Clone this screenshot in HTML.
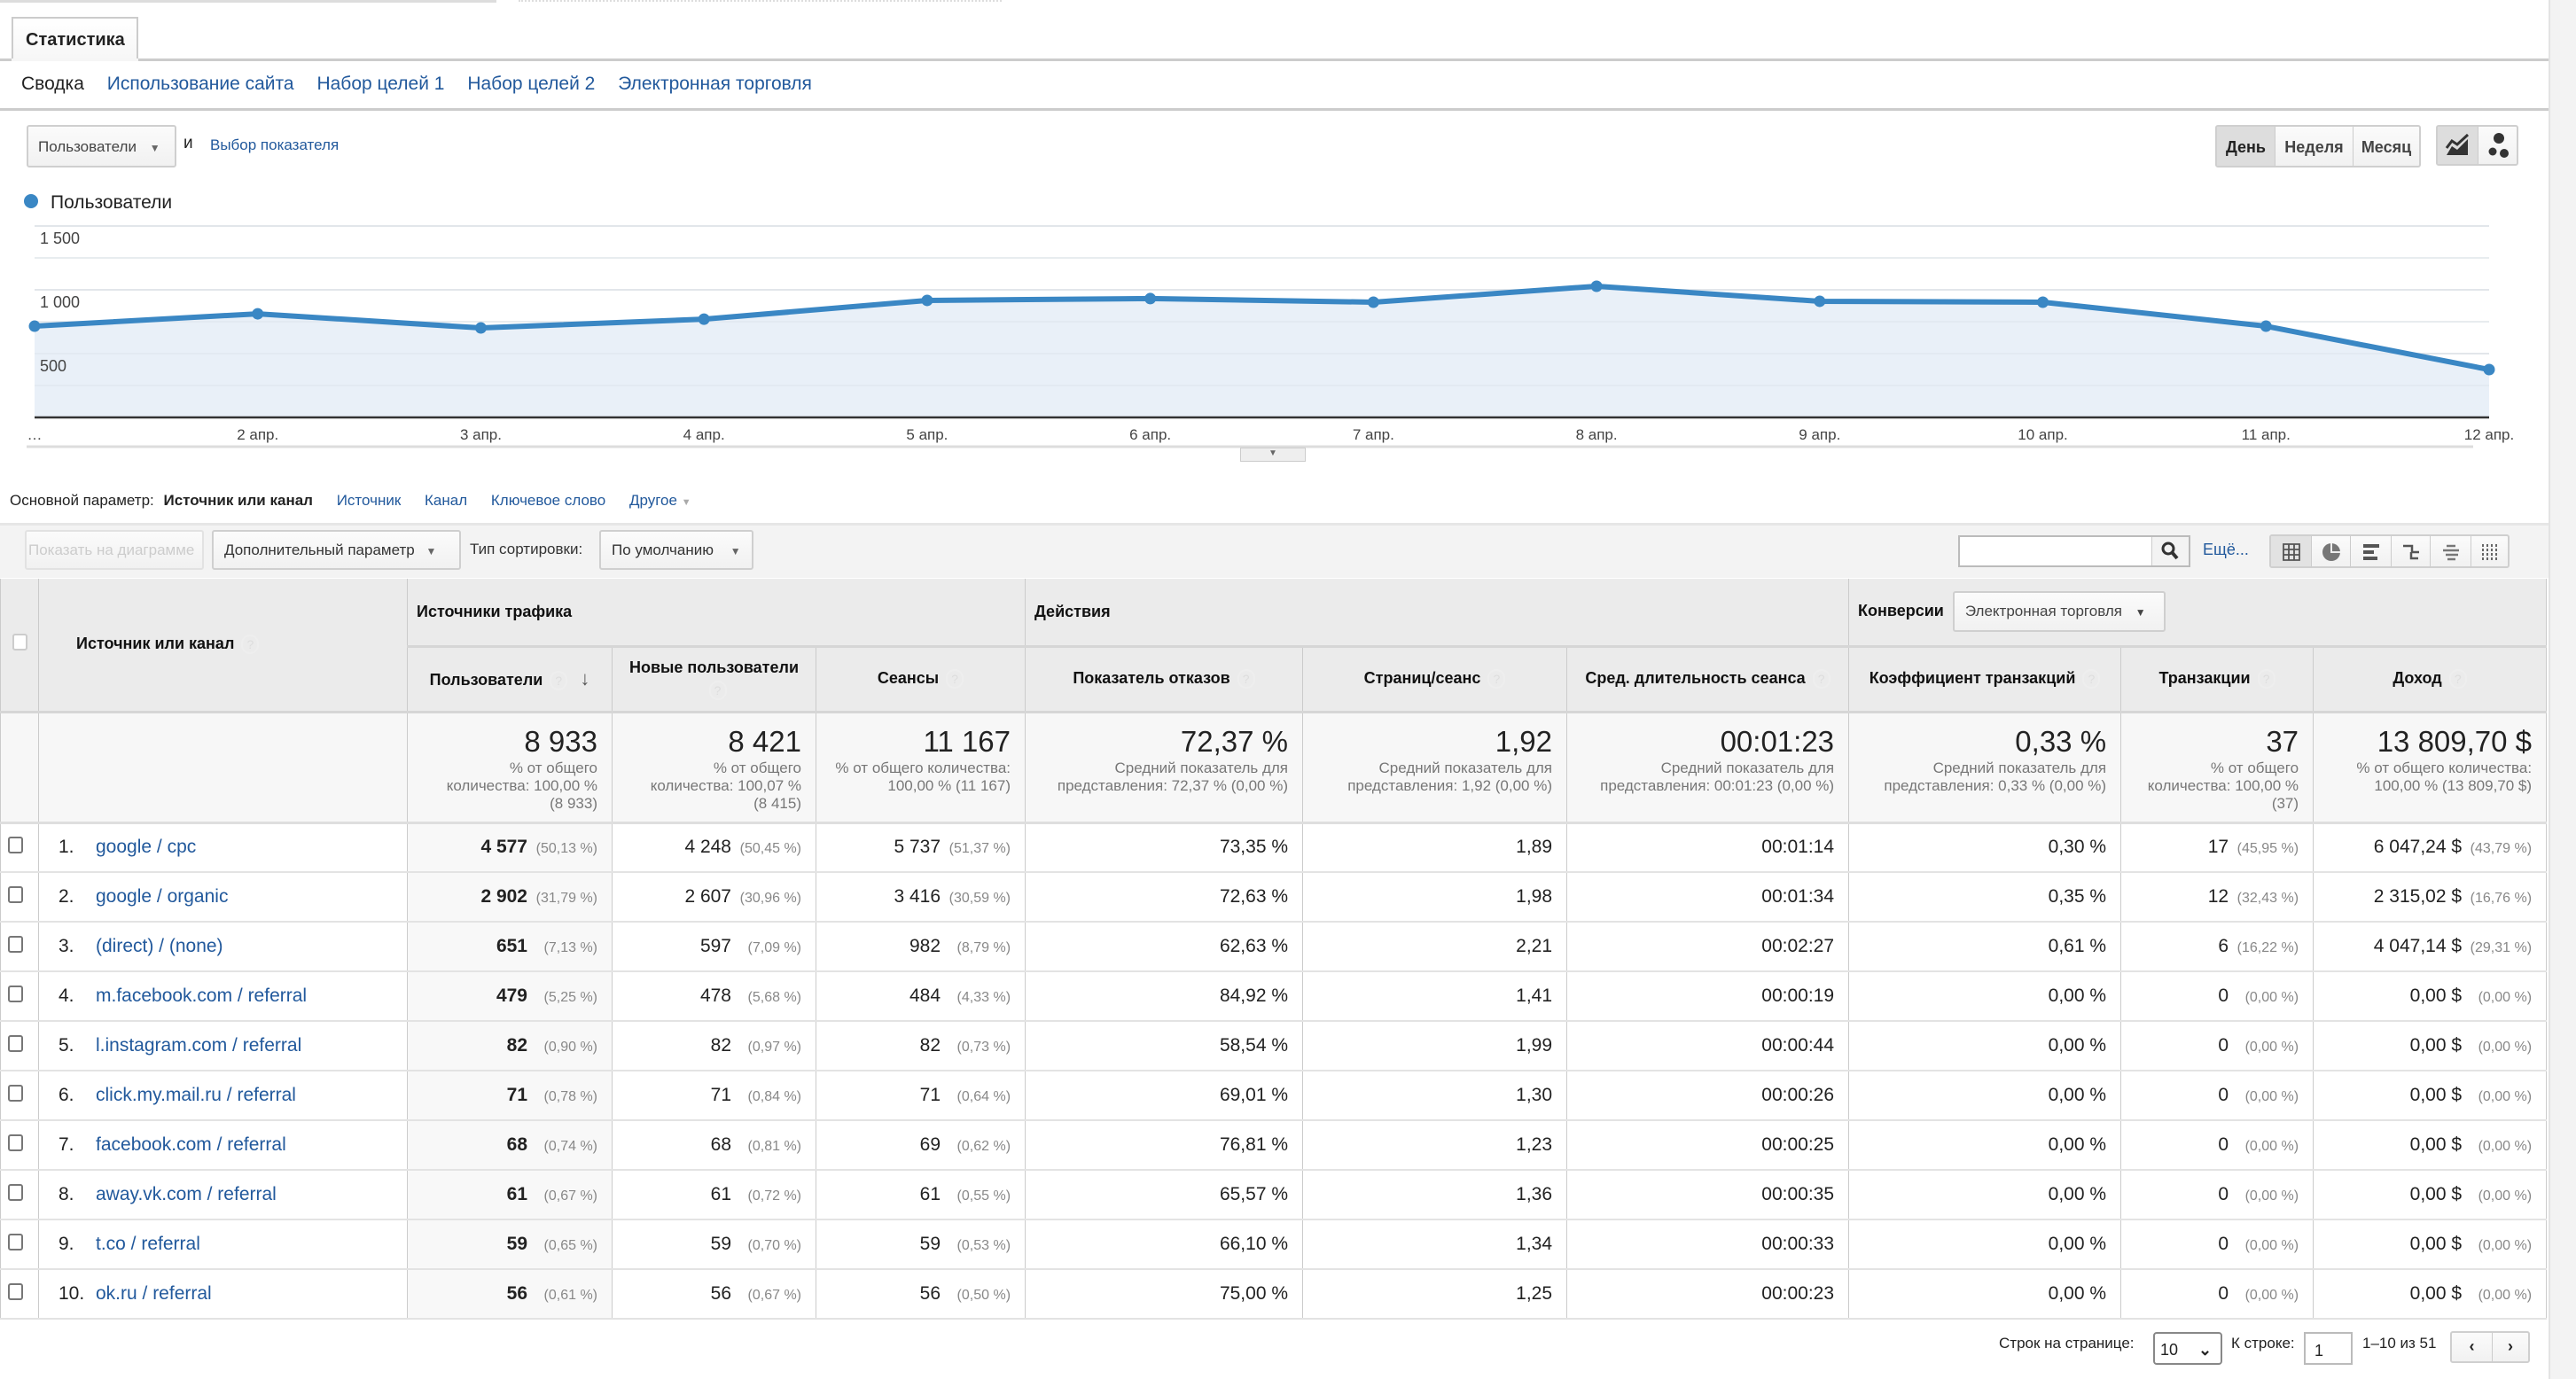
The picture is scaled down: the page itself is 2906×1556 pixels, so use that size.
<!DOCTYPE html>
<html><head><meta charset="utf-8">
<style>
*{box-sizing:border-box;margin:0;padding:0}
body{width:2906px;height:1556px;overflow:hidden;background:#fff;font-family:"Liberation Sans",Arial,sans-serif;color:#222;position:relative}
.a{position:absolute}
.lnk{color:#22599c}
.btn{position:absolute;border:2px solid #cfcfcf;border-radius:3px;background:linear-gradient(#fbfbfb,#f1f1f1);}
table{position:absolute;left:0;top:653px;border-collapse:collapse;table-layout:fixed;width:2872px;font-size:21px}
td,th{border-left:1px solid #cbcbcb;border-right:1px solid #cbcbcb;}
thead th{background:#ebebeb;font-size:18px;font-weight:bold;color:#111;border-bottom:3px solid #d6d6d6}
.tot td{background:#f7f7f7;text-align:right;vertical-align:top;padding:14px 16px 0 6px;border-bottom:3px solid #dedede}
.big{font-size:33px;color:#222;line-height:36px}
.sub{font-size:17px;color:#777;line-height:20px;margin-top:2px}
.row td{height:56px;border-bottom:2px solid #e3e3e3;text-align:right;padding-right:16px;vertical-align:middle}
.pc{display:inline-block;width:79px;text-align:right;font-size:16px;color:#888}
.q{display:inline-block;width:20px;height:22px;border-radius:10px;border:2px solid #eee;color:#ddd;font-size:14px;text-align:center;line-height:18px;font-weight:normal;vertical-align:middle;margin-left:8px}
.cb{display:inline-block;width:17px;height:19px;border:2px solid #777;border-radius:3px;background:#fff}
</style></head><body>
<div class="a" style="left:0;top:0;width:560px;height:3px;background:#ddd"></div>
<div class="a" style="left:585px;top:0;width:545px;height:3px;border-top:2px dotted #ddd"></div>
<div class="a" style="left:2875px;top:0;width:31px;height:1556px;background:#f3f3f3;border-left:2px solid #e3e3e3"></div>

<div class="a" style="left:13px;top:19px;width:143px;height:50px;border:2px solid #ccc;border-bottom:none;background:linear-gradient(#fff,#f6f6f6);font-weight:bold;font-size:20px;padding:13px 0 0 14px">Статистика</div>
<div class="a" style="left:0;top:66px;width:2875px;height:3px;background:#ccc"></div>
<div class="a" style="left:13px;top:66px;width:143px;height:3px;background:#f6f6f6"></div>
<div class="a" style="left:24px;top:83px;font-size:21px;white-space:nowrap">
<span>Сводка</span>
<span class="lnk" style="margin-left:20px">Использование сайта</span>
<span class="lnk" style="margin-left:20px">Набор целей 1</span>
<span class="lnk" style="margin-left:20px">Набор целей 2</span>
<span class="lnk" style="margin-left:20px">Электронная торговля</span></div>
<div class="a" style="left:0;top:122px;width:2875px;height:3px;background:#ccc"></div>

<div class="btn" style="left:30px;top:141px;width:169px;height:48px;font-size:17px;color:#444;padding:13px 0 0 11px">Пользователи <span style="margin-left:10px;font-size:12px;color:#666">▼</span></div>
<div class="a" style="left:207px;top:151px;font-size:19px">и</div>
<div class="a lnk" style="left:237px;top:154px;font-size:17px">Выбор показателя</div>

<div class="btn" style="left:2499px;top:141px;width:232px;height:48px;display:flex;font-size:18px;font-weight:bold;color:#444;padding:0">
<div style="width:65px;background:#ddd;color:#222;text-align:center;padding-top:13px">День</div>
<div style="width:88px;border-left:1px solid #ccc;text-align:center;padding-top:13px">Неделя</div>
<div style="flex:1;border-left:1px solid #ccc;text-align:center;padding-top:13px">Месяц</div></div>
<div class="btn" style="left:2748px;top:141px;width:93px;height:46px;display:flex;padding:0">
<div style="width:45px;background:#ddd"><svg width="45" height="42"><path d="M10 32 L16 22 L22 26 L34 14 L34 32 Z" fill="#333"/><path d="M10 24 L16 16 L22 20 L34 9" stroke="#333" stroke-width="3" fill="none"/></svg></div>
<div style="flex:1;border-left:1px solid #ccc"><svg width="45" height="42"><circle cx="23" cy="13" r="6" fill="#333"/><circle cx="16" cy="28" r="4.5" fill="#333"/><circle cx="29" cy="30" r="5" fill="#333"/></svg></div></div>

<svg class="a" style="left:0;top:200px" width="2875" height="330" id="chart"></svg>
<div class="a" style="left:1399px;top:505px;width:74px;height:16px;background:#eee;border:1px solid #ccc;font-size:10px;text-align:center;color:#666">▼</div>

<div class="a" style="left:11px;top:555px;font-size:17px;white-space:nowrap">Основной параметр: <b style="margin-left:6px">Источник или канал</b>
<span class="lnk" style="margin-left:22px">Источник</span>
<span class="lnk" style="margin-left:22px">Канал</span>
<span class="lnk" style="margin-left:22px">Ключевое слово</span>
<span class="lnk" style="margin-left:22px">Другое <span style="font-size:11px;color:#aaa">▼</span></span></div>

<div class="a" style="left:0;top:590px;width:2875px;height:62px;background:#f3f3f3;border-top:3px solid #e6e6e6"></div>
<div class="btn" style="left:28px;top:598px;width:202px;height:45px;font-size:17px;color:#ccc;padding:11px 0 0 2px;white-space:nowrap;overflow:hidden;border-color:#e2e2e2">Показать на диаграмме</div>
<div class="btn" style="left:239px;top:598px;width:281px;height:45px;font-size:17px;color:#333;padding:11px 0 0 12px;white-space:nowrap">Дополнительный параметр <span style="margin-left:8px;font-size:12px;color:#666">▼</span></div>
<div class="a" style="left:530px;top:610px;font-size:17px;color:#333">Тип сортировки:</div>
<div class="btn" style="left:676px;top:598px;width:174px;height:45px;font-size:17px;color:#333;padding:11px 0 0 12px;white-space:nowrap">По умолчанию <span style="margin-left:14px;font-size:12px;color:#666">▼</span></div>
<div class="a" style="left:2209px;top:604px;width:262px;height:36px;border:2px solid #bbb;background:#fff"></div>
<div class="a" style="left:2427px;top:606px;width:42px;height:32px;background:#f3f3f3;border-left:1px solid #ccc;font-size:20px;text-align:center;color:#333"><svg width="30" height="30"><circle cx="12" cy="13" r="6" stroke="#333" stroke-width="3" fill="none"/><path d="M16 17 L22 24" stroke="#333" stroke-width="4"/></svg></div>
<div class="a lnk" style="left:2485px;top:610px;font-size:18px">Ещё...</div>
<div class="btn" style="left:2560px;top:603px;width:271px;height:38px;display:flex;padding:0">
<div style="width:45px;background:#e2e2e2;text-align:center;padding-top:7px"><svg width="22" height="22"><path d="M2 2h18v18H2zM2 8h18M2 14h18M8 2v18M14 2v18" stroke="#555" stroke-width="1.8" fill="none"/></svg></div>
<div style="width:44px;border-left:1px solid #ccc;text-align:center;padding-top:7px"><svg width="22" height="22"><circle cx="11" cy="11" r="10" fill="#777"/><path d="M11 1v10h10" stroke="#eee" stroke-width="2" fill="none"/></svg></div>
<div style="width:46px;border-left:1px solid #ccc;text-align:center;padding-top:7px"><svg width="22" height="22"><rect x="2" y="2" width="18" height="4" fill="#555"/><rect x="2" y="9" width="12" height="4" fill="#555"/><rect x="2" y="16" width="16" height="4" fill="#555"/></svg></div>
<div style="width:44px;border-left:1px solid #ccc;text-align:center;padding-top:7px"><svg width="22" height="22"><path d="M2 4h10v7h8M11 11v7h8" stroke="#555" stroke-width="2.5" fill="none"/></svg></div>
<div style="width:46px;border-left:1px solid #ccc;text-align:center;padding-top:7px"><svg width="22" height="22"><path d="M6 4h10M2 9h18M5 14h14M7 19h9" stroke="#777" stroke-width="2.5"/></svg></div>
<div style="flex:1;border-left:1px solid #ccc;text-align:center;padding-top:7px"><svg width="22" height="22"><path d="M3 2v18M8 2v18M13 2v18M18 2v18" stroke="#666" stroke-width="2" stroke-dasharray="3 2"/></svg></div></div>

<table>
<colgroup><col style="width:43px"><col style="width:416px"><col style="width:231px"><col style="width:230px"><col style="width:236px"><col style="width:313px"><col style="width:298px"><col style="width:318px"><col style="width:307px"><col style="width:217px"><col style="width:263px"></colgroup>
<thead>
<tr style="height:76px">
<th rowspan="2" style="text-align:center"><span class="cb" style="border-color:#ccc"></span></th>
<th rowspan="2" style="text-align:left;padding-left:42px">Источник или канал<span class="q">?</span></th>
<th colspan="3" style="text-align:left;padding-left:10px">Источники трафика</th>
<th colspan="3" style="text-align:left;padding-left:10px">Действия</th>
<th colspan="3" style="text-align:left;padding-left:10px">Конверсии<span class="btn" style="position:relative;display:inline-block;margin-left:10px;font-weight:normal;font-size:17px;color:#444;padding:11px 12px;vertical-align:middle;height:46px;width:240px">Электронная торговля <span style="margin-left:10px;font-size:12px">▼</span></span></th>
</tr>
<tr style="height:74px">
<th>Пользователи<span class="q">?</span><span style="margin-left:14px;font-size:22px;color:#555">↓</span></th>
<th>Новые пользователи<br><span class="q" style="margin-top:4px">?</span></th>
<th>Сеансы<span class="q">?</span></th>
<th>Показатель отказов<span class="q">?</span></th>
<th>Страниц/сеанс<span class="q">?</span></th>
<th>Сред. длительность сеанса<span class="q">?</span></th>
<th>Коэффициент транзакций<span class="q">?</span></th>
<th>Транзакции<span class="q">?</span></th>
<th>Доход<span class="q">?</span></th>
</tr></thead>
<tbody id="tb">
<tr class="tot" style="height:125px">
<td></td><td></td>
<td><div class="big">8 933</div><div class="sub">% от общего<br>количества: 100,00 %<br>(8 933)</div></td>
<td><div class="big">8 421</div><div class="sub">% от общего<br>количества: 100,07 %<br>(8 415)</div></td>
<td><div class="big">11 167</div><div class="sub">% от общего количества:<br>100,00 % (11 167)</div></td>
<td><div class="big">72,37 %</div><div class="sub">Средний показатель для<br>представления: 72,37 % (0,00 %)</div></td>
<td><div class="big">1,92</div><div class="sub">Средний показатель для<br>представления: 1,92 (0,00 %)</div></td>
<td><div class="big">00:01:23</div><div class="sub">Средний показатель для<br>представления: 00:01:23 (0,00 %)</div></td>
<td><div class="big">0,33 %</div><div class="sub">Средний показатель для<br>представления: 0,33 % (0,00 %)</div></td>
<td><div class="big">37</div><div class="sub">% от общего<br>количества: 100,00 %<br>(37)</div></td>
<td><div class="big">13 809,70 $</div><div class="sub">% от общего количества:<br>100,00 % (13 809,70 $)</div></td>
</tr>
</tbody></table>

<div class="a" style="left:2255px;top:1506px;font-size:17px;color:#222;white-space:nowrap">Строк на странице:</div>
<div class="a" style="left:2429px;top:1503px;width:78px;height:37px;border:2px solid #888;border-radius:4px;font-size:18px;padding:8px 0 0 6px">10 <span style="margin-left:18px;font-weight:bold">⌄</span></div>
<div class="a" style="left:2517px;top:1506px;font-size:17px">К строке:</div>
<div class="a" style="left:2599px;top:1503px;width:55px;height:37px;border:2px solid #bbb;font-size:18px;padding:9px 0 0 10px">1</div>
<div class="a" style="left:2665px;top:1506px;font-size:17px">1–10 из 51</div>
<div class="btn" style="left:2764px;top:1502px;width:90px;height:36px;display:flex;padding:0;font-weight:bold;font-size:18px">
<div style="width:45px;text-align:center;padding-top:5px">‹</div>
<div style="flex:1;border-left:1px solid #ccc;text-align:center;padding-top:5px">›</div></div>

<script>
const categories=["…","2 апр.","3 апр.","4 апр.","5 апр.","6 апр.","7 апр.","8 апр.","9 апр.","10 апр.","11 апр.","12 апр."];
const users=[715,812,701,770,917,931,903,1028,910,903,715,375];
const yTicks=[500,1000,1500];
const yTickLabels=["500","1 000","1 500"];
(function(){
const svg=document.getElementById('chart');const NS='http://www.w3.org/2000/svg';
const OY=200;const x0=39,x1=2808,yBase=471-OY,yTop=255-OY,yMax=1500;
const xs=i=>x0+(x1-x0)*i/(categories.length-1);
const ys=v=>yBase-(yBase-yTop)*v/yMax;
function mk(t,a){const e=document.createElementNS(NS,t);for(const k in a)e.setAttribute(k,a[k]);svg.appendChild(e);return e;}
const lt=mk('text',{x:57,y:35,'font-size':21,fill:'#222','font-family':'Liberation Sans'});lt.textContent='Пользователи';


const ld=mk('circle',{cx:35,cy:27,r:8,fill:'#3a87c4'});


for(let k=0;k<=6;k++){const v=k*250;const g=mk('line',{x1:x0,x2:x1,y1:ys(v),y2:ys(v),stroke:k%2?'#f3f3f3':'#e8e8e8','stroke-width':2});

}
let d='M'+xs(0)+' '+yBase;users.forEach((v,i)=>d+=' L'+xs(i)+' '+ys(v));d+=' L'+xs(users.length-1)+' '+yBase+' Z';
const area=mk('path',{d:d,fill:'#e9f0f8'});


for(let k=0;k<=6;k++){if(k==0)continue;const v=k*250;const g=mk('line',{x1:x0,x2:x1,y1:ys(v),y2:ys(v),stroke:'#dde4ec','stroke-width':1.5,opacity:0.6});

}
yTicks.forEach((v,i)=>{const t=mk('text',{x:45,y:ys(v)+20,'font-size':18,fill:'#444','font-family':'Liberation Sans'});t.textContent=yTickLabels[i];

});
const base=mk('line',{x1:x0,x2:x1,y1:yBase,y2:yBase,stroke:'#333','stroke-width':2.5});


const pl=mk('polyline',{points:users.map((v,i)=>xs(i)+','+ys(v)).join(' '),fill:'none',stroke:'#3a87c4','stroke-width':6,'stroke-linejoin':'round'});


users.forEach((v,i)=>{const c=mk('circle',{cx:xs(i),cy:ys(v),r:6.5,fill:'#3a87c4'});

});
categories.forEach((c,i)=>{const t=mk('text',{x:xs(i),y:yBase+25,'font-size':17,fill:'#444','text-anchor':'middle','font-family':'Liberation Sans'});t.textContent=c;

});
const bl=mk('line',{x1:30,x2:2790,y1:304,y2:304,stroke:'#ddd','stroke-width':3});


})();
const rows=[
["google / cpc","4 577","50,13 %","4 248","50,45 %","5 737","51,37 %","73,35 %","1,89","00:01:14","0,30 %","17","45,95 %","6 047,24 $","43,79 %"],
["google / organic","2 902","31,79 %","2 607","30,96 %","3 416","30,59 %","72,63 %","1,98","00:01:34","0,35 %","12","32,43 %","2 315,02 $","16,76 %"],
["(direct) / (none)","651","7,13 %","597","7,09 %","982","8,79 %","62,63 %","2,21","00:02:27","0,61 %","6","16,22 %","4 047,14 $","29,31 %"],
["m.facebook.com / referral","479","5,25 %","478","5,68 %","484","4,33 %","84,92 %","1,41","00:00:19","0,00 %","0","0,00 %","0,00 $","0,00 %"],
["l.instagram.com / referral","82","0,90 %","82","0,97 %","82","0,73 %","58,54 %","1,99","00:00:44","0,00 %","0","0,00 %","0,00 $","0,00 %"],
["click.my.mail.ru / referral","71","0,78 %","71","0,84 %","71","0,64 %","69,01 %","1,30","00:00:26","0,00 %","0","0,00 %","0,00 $","0,00 %"],
["facebook.com / referral","68","0,74 %","68","0,81 %","69","0,62 %","76,81 %","1,23","00:00:25","0,00 %","0","0,00 %","0,00 $","0,00 %"],
["away.vk.com / referral","61","0,67 %","61","0,72 %","61","0,55 %","65,57 %","1,36","00:00:35","0,00 %","0","0,00 %","0,00 $","0,00 %"],
["t.co / referral","59","0,65 %","59","0,70 %","59","0,53 %","66,10 %","1,34","00:00:33","0,00 %","0","0,00 %","0,00 $","0,00 %"],
["ok.ru / referral","56","0,61 %","56","0,67 %","56","0,50 %","75,00 %","1,25","00:00:23","0,00 %","0","0,00 %","0,00 $","0,00 %"]];
const tb=document.getElementById('tb');
rows.forEach((r,i)=>{
const tr=document.createElement('tr');tr.className='row';


const p=s=>'<span class="pc">('+s+')</span>';
tr.innerHTML='<td style="text-align:left;padding:0 0 0 8px"><span class="cb"></span></td>'+
'<td style="text-align:left;padding-left:22px"><span style="display:inline-block;width:42px">'+(i+1)+'.</span><span class="lnk">'+r[0]+'</span></td>'+
'<td style="background:#f8f8f8"><b>'+r[1]+'</b>'+p(r[2])+'</td>'+
'<td>'+r[3]+p(r[4])+'</td><td>'+r[5]+p(r[6])+'</td><td>'+r[7]+'</td><td>'+r[8]+'</td><td>'+r[9]+'</td><td>'+r[10]+'</td>'+
'<td>'+r[11]+p(r[12])+'</td><td>'+r[13]+p(r[14])+'</td>';
tb.appendChild(tr);});
</script>
</body></html>
